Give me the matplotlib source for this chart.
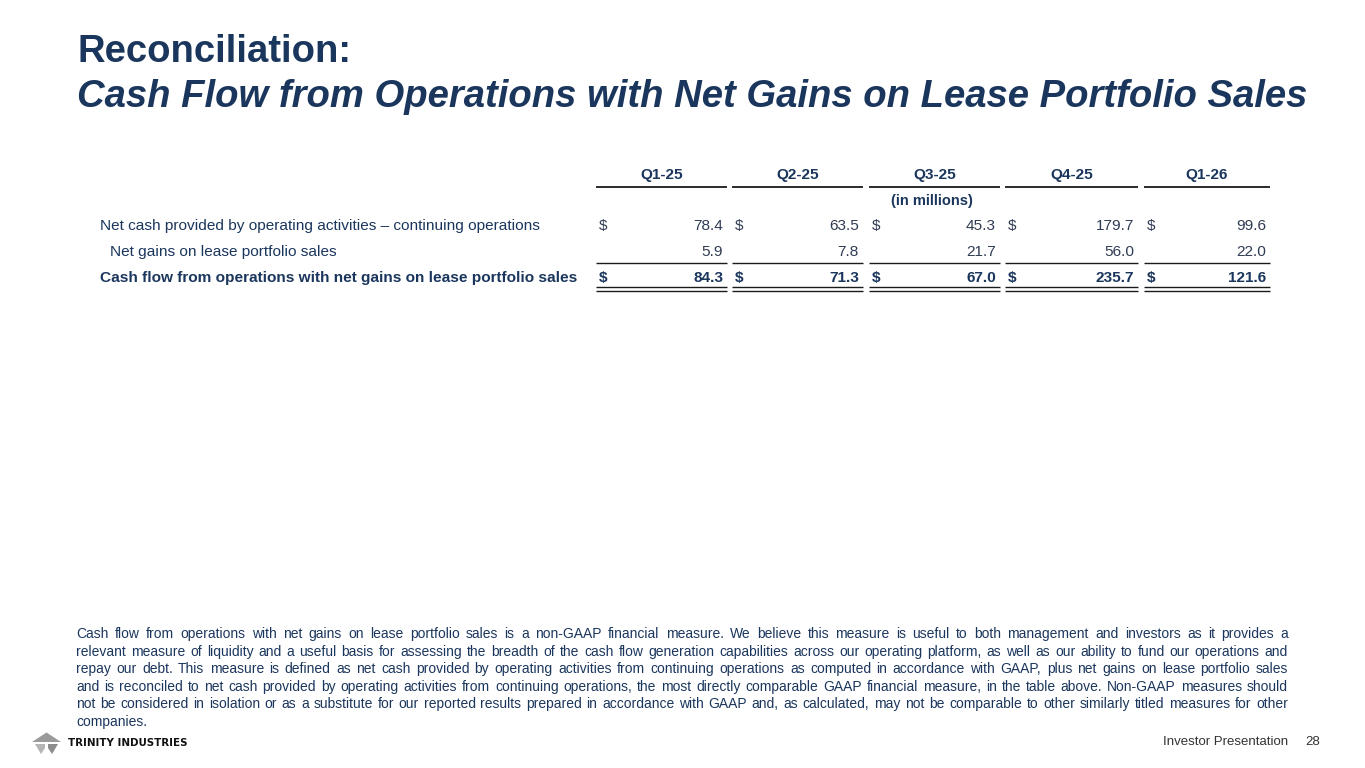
import matplotlib
matplotlib.use("Agg")
import matplotlib.pyplot as plt
from matplotlib.patches import Polygon

plt.rcParams["font.family"] = ["Liberation Sans", "DejaVu Sans"]

NAVY = "#1b365d"
NUM = "#2f3b52"
GREY = "#333333"

title_1 = "Reconciliation:"
title_2 = "Cash Flow from Operations with Net Gains on Lease Portfolio Sales"

quarters = ["Q1-25", "Q2-25", "Q3-25", "Q4-25", "Q1-26"]
row_labels = [
    "Net cash provided by operating activities \u2013 continuing operations",
    "Net gains on lease portfolio sales",
    "Cash flow from operations with net gains on lease portfolio sales",
]
net_cash = [78.4, 63.5, 45.3, 179.7, 99.6]
net_gains = [5.9, 7.8, 21.7, 56.0, 22.0]
cash_flow_total = [84.3, 71.3, 67.0, 235.7, 121.6]

footnote_lines = [
    "Cash flow from operations with net gains on lease portfolio sales is a non-GAAP financial measure. We believe this measure is useful to both management and investors as it provides a",
    "relevant measure of liquidity and a useful basis for assessing the breadth of the cash flow generation capabilities across our operating platform, as well as our ability to fund our operations and",
    "repay our debt. This measure is defined as net cash provided by operating activities from continuing operations as computed in accordance with GAAP, plus net gains on lease portfolio sales",
    "and is reconciled to net cash provided by operating activities from continuing operations, the most directly comparable GAAP financial measure, in the table above. Non-GAAP measures should",
    "not be considered in isolation or as a substitute for our reported results prepared in accordance with GAAP and, as calculated, may not be comparable to other similarly titled measures for other",
    "companies.",
]

fig = plt.figure(figsize=(13.65, 7.68), dpi=100, facecolor="white")
ax = fig.add_axes([0, 0, 1, 1])
ax.set_xlim(0, 1365)
ax.set_ylim(768, 0)
ax.axis("off")

# title
ax.text(77, 62, title_1, fontsize=27.5, fontweight="bold", color=NAVY, va="baseline")
ax.text(77, 107, title_2, fontsize=27.5, fontweight="bold", style="italic", color=NAVY, va="baseline")

# table columns (left, right edges in px)
col_left = [596, 732, 869, 1005, 1144]
col_right = [727, 863, 1000, 1138, 1270]
fs = 11.1

for q, l, r in zip(quarters, col_left, col_right):
    ax.text((l + r) / 2, 179, q, fontsize=fs, fontweight="bold", color=NAVY, ha="center", va="baseline")
    ax.plot([l, r], [187, 187], color="#1a1a1a", lw=1.3, solid_capstyle="butt")
    ax.plot([l, r], [263, 263], color="#1a1a1a", lw=1.0, solid_capstyle="butt")
    ax.plot([l, r], [287, 287], color="#1a1a1a", lw=1.0, solid_capstyle="butt")
    ax.plot([l, r], [290.5, 290.5], color="#1a1a1a", lw=1.0, solid_capstyle="butt")

ax.text(932, 205, "(in millions)", fontsize=fs - 0.6, fontweight="bold", color=NAVY, ha="center", va="baseline")

row_y = [230, 256, 282]
ax.text(100, row_y[0], row_labels[0], fontsize=fs, color=NAVY, va="baseline")
ax.text(110, row_y[1], row_labels[1], fontsize=fs, color=NAVY, va="baseline")
ax.text(100, row_y[2], row_labels[2], fontsize=fs, fontweight="bold", color=NAVY, va="baseline")

for i, (l, r) in enumerate(zip(col_left, col_right)):
    ax.text(l + 3, row_y[0], "$", fontsize=fs, color=NUM, va="baseline")
    ax.text(r - 4, row_y[0], f"{net_cash[i]:.1f}", fontsize=fs, color=NUM, ha="right", va="baseline")
    ax.text(r - 4, row_y[1], f"{net_gains[i]:.1f}", fontsize=fs, color=NUM, ha="right", va="baseline")
    ax.text(l + 3, row_y[2], "$", fontsize=fs, fontweight="bold", color=NAVY, va="baseline")
    ax.text(r - 4, row_y[2], f"{cash_flow_total[i]:.1f}", fontsize=fs, fontweight="bold", color=NAVY,
            ha="right", va="baseline")

# justified footnote
renderer = fig.canvas.get_renderer()
x0, x1 = 76, 1288
fn_fs = 10
fn_y0, fn_dy = 638, 17.6
for k, line in enumerate(footnote_lines):
    y = fn_y0 + k * fn_dy
    words = line.split(" ")
    if k == len(footnote_lines) - 1:
        ax.text(x0, y, line, fontsize=fn_fs, color=NAVY, va="baseline")
        continue
    items = [ax.text(0, y, w, fontsize=fn_fs, color=NAVY, va="baseline") for w in words]
    widths = [t.get_window_extent(renderer).width for t in items]
    gap = (x1 - x0 - sum(widths)) / (len(words) - 1)
    x = x0
    for t, w in zip(items, widths):
        t.set_x(x)
        x += w + gap

# footer
ax.text(1288, 745, "Investor Presentation", fontsize=9.5, color=GREY, ha="right", va="baseline")
ax.text(1320, 745, "28", fontsize=9.5, color=GREY, ha="right", va="baseline")

# logo
ax.add_patch(Polygon([(32, 742), (46.5, 732.5), (61, 742)], closed=True, facecolor="#9a9a9a", edgecolor="none"))
ax.add_patch(Polygon([(35, 744), (45, 744), (45, 748), (41, 754)], closed=True, facecolor="#b5b5b5", edgecolor="none"))
ax.add_patch(Polygon([(48, 744), (58, 744), (52, 754), (48, 748)], closed=True, facecolor="#8c8c8c", edgecolor="none"))
ax.text(68, 746, "TRINITY INDUSTRIES", fontsize=7.4, fontweight="heavy", color="#111111", va="baseline",
        family=["DejaVu Sans"])

fig.savefig("out.png", dpi=100, facecolor="white")
